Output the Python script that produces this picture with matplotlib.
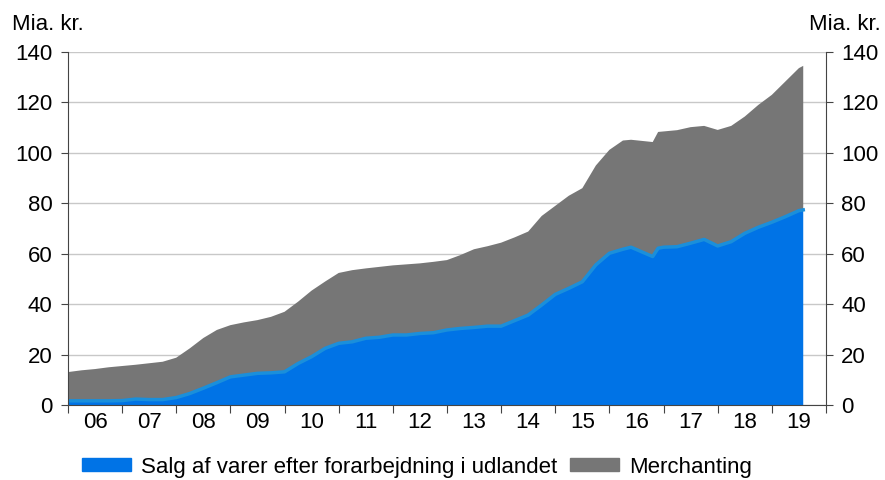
import numpy as np
import matplotlib
matplotlib.use('Agg')
from matplotlib import pyplot as plt
from matplotlib.patches import Patch

plt.rcParams['font.family'] = ['Liberation Sans', 'DejaVu Sans']

# decimal years
x = [2006.00, 2006.25, 2006.50, 2006.75, 2007.00, 2007.25, 2007.50, 2007.75,
     2008.00, 2008.25, 2008.50, 2008.75, 2009.00, 2009.25, 2009.50, 2009.75,
     2010.00, 2010.25, 2010.50, 2010.75, 2011.00, 2011.25, 2011.50, 2011.75,
     2012.00, 2012.25, 2012.50, 2012.75, 2013.00, 2013.25, 2013.50, 2013.75,
     2014.00, 2014.25, 2014.50, 2014.75, 2015.00, 2015.25, 2015.50, 2015.75,
     2016.00, 2016.25, 2016.40, 2016.80, 2016.90, 2017.00, 2017.25, 2017.50,
     2017.75, 2018.00, 2018.25, 2018.50, 2018.75, 2019.00, 2019.25, 2019.50,
     2019.58]

# Salg af varer efter forarbejdning i udlandet
salg = [1.7, 1.7, 1.7, 1.7, 1.8, 2.4, 2.2, 2.2,
        3.0, 4.6, 6.7, 8.9, 11.2, 11.9, 12.6, 12.8,
        13.2, 16.5, 19.2, 22.5, 24.5, 25.1, 26.5, 26.9,
        27.8, 27.8, 28.4, 28.7, 29.8, 30.4, 30.8, 31.3,
        31.3, 33.5, 35.7, 39.7, 43.9, 46.3, 48.9, 55.6,
        60.2, 61.8, 62.6, 58.9, 62.2, 62.6, 62.8, 64.2,
        65.7, 63.1, 64.8, 68.1, 70.5, 72.5, 74.7, 77.1,
        77.4]

# total (salg + merchanting)
total = [13.1, 13.8, 14.3, 15.0, 15.5, 16.0, 16.6, 17.2,
         18.8, 22.5, 26.6, 29.8, 31.7, 32.8, 33.7, 35.0,
         37.0, 41.0, 45.4, 49.0, 52.4, 53.5, 54.2, 54.8,
         55.4, 55.8, 56.2, 56.8, 57.5, 59.5, 61.8, 63.0,
         64.4, 66.5, 68.8, 75.0, 79.0, 83.0, 86.0, 95.0,
         101.2, 104.9, 105.2, 104.3, 108.3, 108.5, 109.0, 110.2,
         110.7, 109.1, 110.7, 114.4, 119.0, 123.0, 128.3, 133.6,
         134.5]

merchanting = list(np.array(total) - np.array(salg))

years = list(range(2006, 2020))
year_labels = [str(y)[2:] for y in years]

blue = '#0073E6'
blue_line = '#1A8FDB'
gray = '#767676'
fs = 16

fig = plt.figure(figsize=(8.85, 4.8), dpi=100)
ax = fig.add_axes([0.0768, 0.156, 0.8565, 0.7357])

ax.stackplot(x, salg, merchanting, colors=[blue, gray], linewidth=0)
ax.plot(x, salg, color=blue_line, lw=2.5)

ax.set_xlim(2006, 2020)
ax.set_ylim(0, 140)
ax.set_yticks(range(0, 141, 20))
ax.yaxis.grid(True, color='#c8c8c8', lw=1)
ax.set_axisbelow(True)

ax.set_xticks(years + [2020])
ax.set_xticklabels([])
ax.set_xticks([y + 0.5 for y in years], minor=True)
ax.set_xticklabels(year_labels, minor=True)
ax.tick_params(axis='x', which='major', length=6, color='#444444')
ax.tick_params(axis='x', which='minor', length=0, labelsize=fs, pad=5)
ax.tick_params(axis='y', labelsize=fs, length=5, color='#444444', labelright=True, right=True, pad=6)

for s in ['left', 'right', 'bottom']:
    ax.spines[s].set_color('#444444')
ax.spines['top'].set_visible(False)

fig.text(0.013, 0.95, 'Mia. kr.', fontsize=fs, ha='left', va='center')
fig.text(0.995, 0.95, 'Mia. kr.', fontsize=fs, ha='right', va='center')

handles = [Patch(color=blue, label='Salg af varer efter forarbejdning i udlandet'),
           Patch(color=gray, label='Merchanting')]
fig.legend(handles=handles, loc='center', bbox_to_anchor=(0.471, 0.027), ncol=2,
           frameon=False, fontsize=fs, handlelength=2.2, handleheight=0.5,
           handletextpad=0.45, columnspacing=0.6, borderaxespad=0, borderpad=0)

plt.savefig('out.png', dpi=100)
